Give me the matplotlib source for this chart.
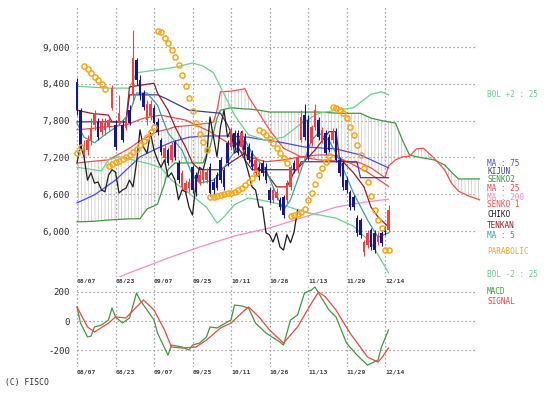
import numpy as np
import matplotlib
matplotlib.use("Agg")
import matplotlib.pyplot as plt
from matplotlib.transforms import blended_transform_factory as btf, offset_copy

# ---------------- data ----------------
date_labels = ['08/07', '08/23', '09/07', '09/25', '10/11', '10/26', '11/13', '11/29', '12/14']
label_step = 11
price_ticks = [6000, 6600, 7200, 7800, 8400, 9000]
macd_ticks = [-200, 0, 200]
chiko_shift = 26

opens = [8430, 7970, 7240, 7320, 7480, 7730, 7780, 7620, 7650, 7700,
         8010, 7730, 7760, 7730, 7680, 7970, 8220, 8790, 8460, 8250,
         7810, 7880, 8010, 7780, 7480, 7190, 7320, 7160, 7450, 7110,
         6720, 6670, 6700, 7040, 6910, 6800, 6830, 6830, 7040, 6800,
         6910, 7160, 7000, 7440, 7370, 7600, 7600, 7370, 7530, 7370,
         7270, 6950, 7040, 7110, 7040, 6670, 6510, 6540, 6510, 6560,
         6510, 6720, 7110, 6990, 7480, 7890, 7810, 7440, 7700, 7810,
         7480, 7600, 7530, 7480, 7620, 7160, 7110, 6830, 6640, 6560,
         6210, 6180, 5660, 5770, 6020, 5970, 5820, 5970, 6050, 6020]
closes = [7970, 7350, 7400, 7480, 7680, 7920, 7530, 7780, 7760, 7810,
          8330, 7370, 7920, 7480, 7840, 7760, 8820, 8460, 8220, 8020,
          8070, 8070, 7760, 7620, 7290, 7350, 7110, 7400, 7210, 6830,
          6950, 6780, 6800, 6670, 6640, 6910, 7000, 6960, 6620, 6670,
          6700, 6830, 6720, 7110, 7650, 7370, 7270, 7600, 7320, 7160,
          7040, 7160, 6880, 6950, 6830, 6510, 6670, 6640, 6390, 6260,
          6780, 7040, 6990, 7210, 7860, 7530, 7210, 7700, 7970, 7530,
          7650, 7270, 7320, 7620, 7160, 6950, 6720, 6670, 6390, 6390,
          5970, 5940, 5820, 5970, 5740, 5690, 5940, 5810, 5980, 6340]
highs = [8490, 8010, 7480, 7570, 7840, 7970, 7840, 7840, 7840, 7860,
         8380, 7810, 8220, 7810, 7890, 8050, 9280, 8820, 8540, 8300,
         8140, 8140, 8050, 7840, 7520, 7400, 7350, 7450, 7480, 7160,
         7000, 6830, 6860, 7080, 6960, 7000, 7040, 7030, 7110, 6860,
         6960, 7210, 7040, 7480, 7700, 7650, 7650, 7650, 7600, 7440,
         7320, 7210, 7110, 7160, 7110, 6720, 6720, 6700, 6560, 6590,
         6830, 7080, 7160, 7240, 7970, 8070, 7890, 7730, 8070, 7860,
         7700, 7650, 7580, 7680, 7680, 7210, 7160, 6880, 6670, 6590,
         6260, 6210, 5850, 6020, 6050, 6020, 5990, 6020, 6080, 6420]
lows = [7890, 7320, 7190, 7240, 7400, 7650, 7480, 7570, 7570, 7650,
        7970, 7320, 7730, 7450, 7650, 7730, 8090, 8380, 8140, 7970,
        7730, 7810, 7730, 7570, 7240, 7130, 7080, 7130, 7160, 6780,
        6670, 6620, 6640, 6620, 6570, 6750, 6780, 6780, 6570, 6590,
        6670, 6780, 6670, 7060, 7320, 7320, 7240, 7320, 7270, 7110,
        7000, 6900, 6830, 6900, 6780, 6460, 6460, 6510, 6340, 6210,
        6460, 6670, 6950, 6950, 7450, 7480, 7160, 7390, 7650, 7480,
        7440, 7240, 7290, 7440, 7130, 6900, 6670, 6620, 6340, 6340,
        5920, 5890, 5590, 5720, 5690, 5640, 5770, 5760, 5940, 5980]

parabolic = [7270, 7370, 8690, 8640, 8580, 8510, 8460, 8400, 8320, 7060,
             7090, 7130, 7140, 7170, 7210, 7240, 7290, 7340, 7400, 7470,
             7530, 7610, 7700, 9260, 9250, 9150, 9070, 8950, 8840, 8710,
             8540, 8360, 8170, 7960, 7760, 7580, 7450, 7320, 6560, 6560,
             6570, 6590, 6600, 6620, 6620, 6640, 6670, 6700, 6750, 6800,
             6870, 6950, 7650, 7610, 7570, 7500, 7440, 7350, 7270, 7190,
             7110, 6250, 6260, 6280, 6310, 6360, 6510, 6620, 6770, 6910,
             7030, 7130, 7220, 8020, 8010, 7970, 7920, 7840, 7700, 7570,
             7400, 7240, 7030, 6800, 6570, 6340, 6180, 6050, 5690, 5690]

ma5_idx = [0, 2, 5, 8, 12, 15, 17, 20, 23, 26, 30, 33, 35, 39, 41, 44, 47, 48, 50, 54,
           56, 59, 61, 63, 65, 67, 69, 72, 75, 79, 83, 86, 89]
ma5_val = [7760, 7530, 7440, 7570, 7730, 7920, 8250, 8250, 8050, 7600, 7320, 6910, 6780, 6830,
           6950, 7210, 7450, 7480, 7270, 7000, 6720, 6340, 6510, 6830, 7160, 7480, 7600, 7480,
           7160, 6620, 6180, 5900, 5970]
ma25_idx = [0, 9, 14, 19, 24, 31, 38, 45, 49, 54, 59, 64, 69, 73, 78, 83, 89]
ma25_val = [7650, 7700, 7730, 7840, 7890, 7810, 7620, 7370, 7210, 7130, 7160, 7210, 7240,
            7240, 7110, 6960, 6730]
ma75_idx = [0, 5, 11, 18, 23, 27, 32, 37, 43, 49, 54, 58, 65, 74, 81, 89]
ma75_val = [6460, 6590, 6830, 7210, 7350, 7450, 7530, 7550, 7550, 7530, 7480, 7450, 7370,
            7340, 7240, 7030]
ma200_idx = [10, 15, 26, 35, 45, 55, 65, 74, 82, 89]
ma200_val = [5200, 5320, 5560, 5740, 5920, 6050, 6230, 6390, 6470, 6520]
bolu_idx = [0, 9, 15, 17, 23, 28, 33, 36, 39, 41, 45, 49, 54, 59, 64, 69, 73, 79, 84, 87, 89]
bolu_val = [8360, 8330, 8330, 8580, 8630, 8670, 8740, 8690, 8580, 8350, 7890, 7570, 7480,
            7530, 7750, 7920, 7960, 8010, 8230, 8270, 8220]
boll_idx = [0, 7, 9, 12, 16, 21, 24, 27, 32, 37, 40, 42, 45, 49, 54, 58, 65, 74, 79, 84, 89]
boll_val = [7040, 6980, 7160, 7210, 7160, 7090, 7030, 6830, 6620, 6390, 6130, 6230, 6430,
            6540, 6490, 6440, 6310, 6210, 6080, 5810, 5320]
tenkan_idx = [0, 4, 9, 10, 14, 15, 22, 23, 26, 28, 31, 33, 35, 41, 45, 48, 51, 54, 57, 60,
              62, 64, 68, 72, 74, 75, 79, 82, 84, 86, 89]
tenkan_val = [7970, 7920, 7890, 7780, 7780, 8350, 8410, 8250, 7970, 7700, 7370, 7110, 7000,
              7000, 7160, 7270, 7030, 6950, 6720, 6720, 6960, 7080, 7320, 7620, 7620, 7190,
              6950, 6720, 6390, 6230, 6070]
kijun_idx = [0, 14, 15, 23, 25, 32, 41, 43, 45, 48, 50, 63, 64, 80, 81, 89]
kijun_val = [7780, 7780, 8220, 8220, 8170, 7970, 7920, 7730, 7480, 7160, 7000, 7000, 7130,
             7130, 6870, 6870]
senko_idx = [0, 5, 9, 15, 18, 20, 22, 23, 25, 26, 28, 34, 36, 38, 39, 40, 41, 44, 48, 49,
             52, 55, 59, 64, 69, 75, 81, 84, 88, 89, 91, 93, 95, 97, 99, 102, 105, 107, 109,
             112, 115]
senko1_val = [7110, 7140, 7160, 7350, 7470, 7530, 7600, 7620, 7650, 7660, 7700, 7730, 7750,
              7760, 7780, 7970, 8270, 8280, 8320, 8190, 7920, 7650, 7350, 7210, 7160, 7140,
              7110, 7030, 6870, 7060, 7160, 7210, 7220, 7340, 7350, 7190, 7000, 6780, 6650,
              6570, 6510]
senko2_val = [6150, 6160, 6180, 6200, 6200, 6360, 6410, 6440, 6770, 7000, 7110, 7110, 7110,
              7370, 7600, 7840, 7970, 8010, 7990, 7990, 7970, 7940, 7940, 7940, 7940, 7920,
              7920, 7840, 7790, 7780, 7760, 7480, 7240, 7210, 7190, 7160, 7080, 6960, 6850,
              6850, 6850]

macd_idx = [0, 1, 3, 4, 5, 7, 9, 10, 11, 13, 15, 17, 18, 20, 22, 23, 26, 27, 30, 32,
            33, 35, 37, 38, 40, 41, 44, 45, 47, 49, 51, 54, 58, 59, 61, 63, 65, 67, 68, 69,
            72, 74, 77, 80, 83, 86, 87, 89]
macd_val = [97, -14, -110, -104, -41, -28, 7, 90, 28, -14, 21, 193, 145, 76, 7, -83, -235,
            -166, -179, -200, -166, -152, -110, -41, -48, -34, 7, 110, 104, 90, -14, -83,
            -145, -166, 7, 41, 193, 214, 235, 193, 76, 28, -152, -235, -304, -269, -179, -62]
sig_idx = [0, 3, 5, 9, 11, 14, 17, 19, 22, 25, 27, 30, 34, 37, 41, 44, 47, 49, 52, 55,
           59, 63, 67, 69, 71, 74, 78, 83, 86, 87, 89]
sig_val = [97, -41, -76, -14, 28, 21, 97, 145, 76, -62, -179, -186, -179, -131, -48, -14,
           55, 97, 28, -62, -152, -41, 124, 200, 166, 76, -83, -248, -283, -255, -186]

# ---------------- style ----------------
RED = '#ff3c3c'
NAVY = '#18188c'
C_MA5 = '#3aa0a0'
C_MA25 = '#ff4444'
C_MA75 = '#4848ff'
C_MA200 = '#ff88c8'
C_BOL = '#66d48a'
C_TENKAN = '#a01c1c'
C_KIJUN = '#3c3c96'
C_SENKO1 = '#ff4a4a'
C_SENKO2 = '#3c9c3c'
C_CHIKO = '#1e1e1e'
C_PSAR = '#ffa514'
C_GRID = '#8a8a8a'
MONO = 'DejaVu Sans Mono'

W, H = 557, 399
fig = plt.figure(figsize=(W / 100, H / 100), dpi=100)
fig.patch.set_facecolor('white')

L, R = 72, 481
px_per_bar = 3.5
x0_px = 77
ax = fig.add_axes([L / W, 1 - 277 / H, (R - L) / W, (277 - 5) / H])
ax2 = fig.add_axes([L / W, 1 - 367 / H, (R - L) / W, (367 - 283) / H])
xlim = ((L - x0_px) / px_per_bar, (R - x0_px) / px_per_bar)
for a in (ax, ax2):
    a.set_xlim(*xlim)
    for s in a.spines.values():
        s.set_visible(False)
    a.set_xticks([])
    a.tick_params(axis='y', length=0, pad=1.5, labelsize=6.6, labelcolor='#303030')
ax.set_ylim(5251, 9685)
ax2.set_ylim(-317, 262)

grid_x = [i * label_step for i in range(len(date_labels))]
dot = (0, (1, 2.2))
last_x = senko_idx[-1] - 0.8

# grid
ax.hlines(price_ticks, grid_x[0], last_x, colors=C_GRID, linestyles=dot, lw=0.9, zorder=1)
ax.vlines(grid_x, 5251, 9650, colors=C_GRID, linestyles=dot, lw=0.9, zorder=1)
ax2.hlines(macd_ticks, grid_x[0], last_x, colors=C_GRID, linestyles=dot, lw=0.9, zorder=1)
ax2.vlines(grid_x, -317, 240, colors=C_GRID, linestyles=dot, lw=0.9, zorder=1)

ax.set_yticks(price_ticks)
ax.set_yticklabels([f'{v:,}' for v in price_ticks], family=MONO)
ax2.set_yticks(macd_ticks)
ax2.set_yticklabels([str(v) for v in macd_ticks], family=MONO)

# x labels
for a, yoff in ((ax, -0.004), (ax2, -0.035)):
    tr = btf(a.transData, a.transAxes)
    for gx, lab in zip(grid_x, date_labels):
        a.text(gx, yoff, lab, transform=tr, ha='left', va='top', fontsize=4.6,
               family=MONO, fontweight='bold', color='#404040')

# ichimoku cloud (hatched)
plt.rcParams['hatch.linewidth'] = 0.45
ax.fill_between(senko_idx, senko1_val, senko2_val, facecolor='none',
                edgecolor='#c2c2c2', hatch='|||||', linewidth=0, zorder=1.5)

# indicator lines
lw = 0.9
ax.plot(senko_idx, senko2_val, color=C_SENKO2, lw=lw, zorder=3)
ax.plot(senko_idx, senko1_val, color=C_SENKO1, lw=lw, zorder=3)
ax.plot(ma200_idx, ma200_val, color=C_MA200, lw=lw, zorder=3)
ax.plot(ma75_idx, ma75_val, color=C_MA75, lw=lw, zorder=3)
ax.plot(bolu_idx, bolu_val, color=C_BOL, lw=lw, zorder=3)
ax.plot(boll_idx, boll_val, color=C_BOL, lw=lw, zorder=3)
ax.plot(ma25_idx, ma25_val, color=C_MA25, lw=lw, zorder=3)
ax.plot(kijun_idx, kijun_val, color=C_KIJUN, lw=lw, zorder=3)
ax.plot(tenkan_idx, tenkan_val, color=C_TENKAN, lw=lw, zorder=3)
ax.plot(ma5_idx, ma5_val, color=C_MA5, lw=lw, zorder=3)

# candles
o = np.array(opens, float)
c = np.array(closes, float)
hi = np.array(highs, float)
lo = np.array(lows, float)
xb = np.arange(len(o))
cols = np.where(c >= o, RED, NAVY)
ax.vlines(xb, lo, hi, colors=cols, lw=0.8, zorder=4)
ax.bar(xb, np.maximum(np.abs(c - o), 25), bottom=np.minimum(o, c), width=0.75,
       color=cols, linewidth=0, zorder=5)

# chiko span: closes shifted back
ax.plot(xb[:len(c) - chiko_shift], c[chiko_shift:], color=C_CHIKO, lw=lw, zorder=4.5)

# parabolic
ax.plot(xb, parabolic, linestyle='none', marker='o', mfc='none', mec=C_PSAR,
        ms=3.7, mew=1.1, zorder=6)

# MACD panel
ax2.plot(macd_idx, macd_val, color='#3c9c3c', lw=lw, zorder=3)
ax2.plot(sig_idx, sig_val, color='#ff4040', lw=lw, zorder=3)

# right-side labels at the last value of each series
# (small pixel nudges, positive = up, keep them legible)
tr = btf(ax.transAxes, ax.transData)
lx = (487 - L) / (R - L)
labels = [
    ('BOL +2 : 25', C_BOL, bolu_val[-1], 0),
    ('MA : 75', C_MA75, ma75_val[-1], 4),
    ('KIJUN', C_KIJUN, kijun_val[-1], 6),
    ('SENKO2', C_SENKO2, senko2_val[-1], -1),
    ('MA : 25', C_MA25, ma25_val[-1], -2),
    ('MA : 200', C_MA200, ma200_val[-1], 2),
    ('SENKO 1', C_SENKO1, senko1_val[-1], -5),
    ('CHIKO', C_CHIKO, closes[-1], -4),
    ('TENKAN', C_TENKAN, tenkan_val[-1], 1),
    ('MA : 5', C_MA5, ma5_val[-1], -3),
    ('PARABOLIC', C_PSAR, parabolic[-1], -1),
    ('BOL -2 : 25', C_BOL, boll_val[-1], -2),
]
for txt, col, yv, dy in labels:
    t = offset_copy(tr, fig=fig, x=0, y=dy, units='dots')
    ax.text(lx, yv, txt, transform=t, color=col, fontsize=5.6, family=MONO,
            ha='left', va='center', clip_on=False)

ax2.text(lx, (367 - 292) / 84, 'MACD', transform=ax2.transAxes, color='#3c9c3c',
         fontsize=5.6, family=MONO, ha='left', va='center')
ax2.text(lx, (367 - 302) / 84, 'SIGNAL', transform=ax2.transAxes, color='#ff4040',
         fontsize=5.6, family=MONO, ha='left', va='center')

fig.text(5 / W, 1 - 383 / H, '(C) FISCO', fontsize=5.8, family=MONO, color='#303030',
         ha='left', va='center')

fig.savefig('out.png', dpi=100, facecolor='white')
